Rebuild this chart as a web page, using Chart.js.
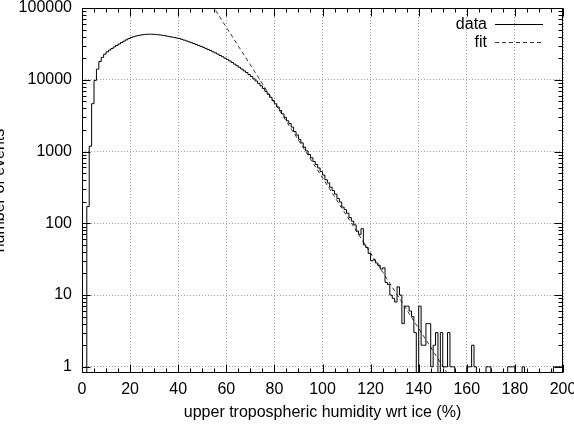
<!DOCTYPE html>
<html><head><meta charset="utf-8">
<script src="https://cdn.jsdelivr.net/npm/chart.js@4/dist/chart.umd.min.js"></script>
<style>html,body{margin:0;padding:0;background:#fff}</style>
</head><body>
<canvas id="c" width="574" height="425"></canvas>
<script>
// Histogram of upper tropospheric humidity wrt ice (%), bins of width 1 starting at 0
const binWidth = 1;
const counts = [
  0, 0, 171, 1185, 4640, 9800, 14070, 17960, 20500, 22700,
  24500, 25900, 27300, 28700, 30100, 31500, 33000, 34500, 36000, 37500,
  38800, 39800, 40700, 41400, 42000, 42500, 42900, 43100, 43100, 43000,
  42800, 42500, 42100, 41600, 41100, 40500, 39900, 39300, 38700, 38100,
  37600, 36600, 35700, 34800, 33800, 32900, 32000, 31000, 30100, 29200,
  28300, 27400, 26400, 25500, 24500, 23700, 22800, 21800, 20900, 20000,
  19200, 18300, 17400, 16500, 15700, 14900, 14100, 13300, 12600, 11800,
  11100, 10300, 9620, 8910, 8220, 7550, 6900, 6280, 5690, 5140,
  4630, 4170, 3740, 3350, 3000, 2680, 2450, 2190, 1900, 1700,
  1480, 1320, 1150, 1020, 910, 820, 725, 660, 590, 525,
  470, 405, 365, 318, 285, 255, 222, 198, 168, 155,
  138, 120, 107, 95, 78, 70, 84, 50, 46, 38,
  30, 31, 28, 26, 23, 24, 15, 14, 10, 9,
  8, 13, 10, 4, 7, 7, 6, 5, 3, 0,
  7, 2, 2, 4, 4, 1, 2, 3, 0, 3,
  1, 1, 3, 1, 1, 0, 0, 0, 0, 0,
  1, 1, 2, 1, 0, 0, 0, 0, 1, 1,
  0, 0, 0, 0, 0, 0, 0, 1, 1, 1,
  0, 0, 0, 1, 0, 0, 0, 0, 0, 0,
  0, 0, 0, 0, 0, 0, 1, 1, 1, 1
];
// exponential fit (straight line on log axis), end points
const fitX = [54, 154];
const fitY = [111500, 0.63];

const xTickValues = [0, 20, 40, 60, 80, 100, 120, 140, 160, 180, 200];
const xMinorStep = 5;
const yTickValues = [1, 10, 100, 1000, 10000, 100000];
const yMin = 0.82, yMax = 100000;

const xTitle = 'upper tropospheric humidity wrt ice (%)';
const yTitle = 'number of events';

// empty bins sit on the bottom of the log axis (log of 0 is undefined)
const histPoints = counts.map((v, i) => ({x: i * binWidth, y: v > 0 ? v : yMin}));
histPoints.push({x: counts.length * binWidth, y: yMin});
const fitPoints = fitX.map((v, i) => ({x: v, y: fitY[i]}));

const FONT = "'Liberation Sans', Arial, sans-serif";

const framePlugin = {
  id: 'frame',
  afterDraw(chart) {
    const {ctx, chartArea: a, scales: {x, y}} = chart;
    const L = Math.round(a.left) + 0.5, R = Math.round(a.right) - 0.5;
    const T = Math.round(a.top) + 0.5, B = Math.round(a.bottom) - 0.5;
    ctx.save();
    ctx.strokeStyle = '#000';
    ctx.lineWidth = 1;
    ctx.setLineDash([]);
    ctx.beginPath();
    for (let v = x.min; v <= x.max + 1e-9; v += xMinorStep) {
      const major = xTickValues.includes(v);
      const len = major ? 8 : 4;
      const p = Math.round(x.getPixelForValue(v)) + 0.5;
      ctx.moveTo(p, B); ctx.lineTo(p, B - len);
      ctx.moveTo(p, T); ctx.lineTo(p, T + len);
    }
    for (let d = 0; d < yTickValues.length; d++) {
      const dec = yTickValues[d];
      for (let m = 1; m <= 9; m++) {
        const v = dec * m;
        if (v < y.min || v > y.max) continue;
        const len = m === 1 ? 8 : 4;
        const p = Math.round(y.getPixelForValue(v)) + 0.5;
        ctx.moveTo(L, p); ctx.lineTo(L + len, p);
        ctx.moveTo(R, p); ctx.lineTo(R - len, p);
      }
    }
    ctx.stroke();
    ctx.strokeRect(L, T, R - L, B - T);

    ctx.font = '16px ' + FONT;
    ctx.fillStyle = '#000';
    ctx.textAlign = 'right';
    ctx.textBaseline = 'middle';
    const rows = [24, 41.5];
    chart.data.datasets.forEach((ds, i) => {
      const yy = rows[i];
      ctx.fillText(ds.label, 487, yy + 1);
      ctx.beginPath();
      ctx.strokeStyle = ds.borderColor;
      ctx.lineWidth = 1;
      ctx.setLineDash(ds.borderDash || []);
      ctx.moveTo(495, Math.round(yy) + 0.5);
      ctx.lineTo(543, Math.round(yy) + 0.5);
      ctx.stroke();
    });
    ctx.restore();
  }
};

new Chart(document.getElementById('c'), {
  type: 'line',
  data: {
    datasets: [
      {label: 'data', data: histPoints, stepped: 'before', borderColor: '#000', borderWidth: 1,
       pointRadius: 0, fill: false},
      {label: 'fit', data: fitPoints, borderColor: '#333', borderWidth: 1, borderDash: [4, 3],
       pointRadius: 0, fill: false}
    ]
  },
  options: {
    responsive: false,
    animation: false,
    devicePixelRatio: 1,
    layout: {autoPadding: false, padding: {left: 0, right: 11, top: 8, bottom: 0}},
    plugins: {legend: {display: false}, tooltip: {enabled: false}},
    scales: {
      x: {
        type: 'linear', min: 0, max: 200,
        afterBuildTicks: s => { s.ticks = xTickValues.map(v => ({value: v})); },
        afterFit: s => { s.height = 52; s.paddingLeft = 0; s.paddingRight = 0; },
        ticks: {color: '#000', font: {family: FONT, size: 16}, padding: 7, maxRotation: 0, autoSkip: false,
                callback: v => String(v)},
        grid: {color: '#9a9a9a', lineWidth: 1, drawTicks: false},
        border: {display: false, dash: [1, 2]},
        title: {display: true, text: xTitle, color: '#000', font: {family: FONT, size: 16},
                padding: {top: 0, bottom: 2.4}}
      },
      y: {
        type: 'logarithmic', min: yMin, max: yMax,
        afterBuildTicks: s => { s.ticks = yTickValues.map(v => ({value: v})); },
        afterFit: s => { s.width = 82; s.paddingTop = 0; s.paddingBottom = 0; },
        ticks: {color: '#000', font: {family: FONT, size: 16}, padding: 10, autoSkip: false,
                callback: v => String(v)},
        grid: {color: '#9a9a9a', lineWidth: 1, drawTicks: false},
        border: {display: false, dash: [1, 2]},
        title: {display: true, text: yTitle, color: '#000', font: {family: FONT, size: 16},
                padding: {top: -10, bottom: 0}}
      }
    }
  },
  plugins: [framePlugin]
});
</script>
</body></html>
